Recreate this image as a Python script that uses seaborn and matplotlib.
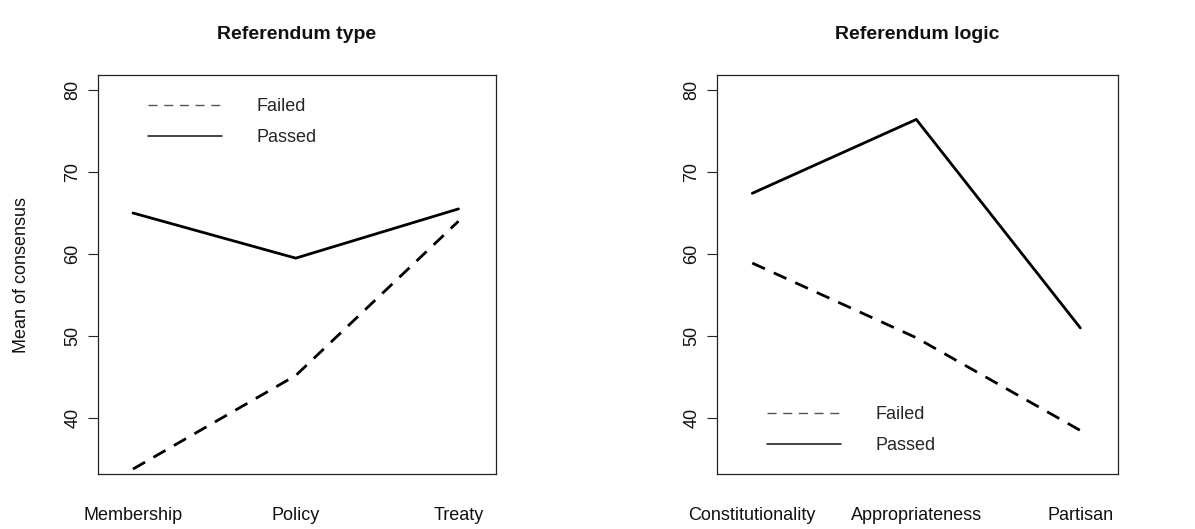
import pandas as pd
import matplotlib.pyplot as plt
import seaborn as sns
from matplotlib.lines import Line2D

# ------------------------------------------------------- #
#                          DATOS                          #
# ------------------------------------------------------- #
type_levels = ['Membership', 'Policy', 'Treaty']
type_failed = [33.8, 45.2, 64.0]
type_passed = [65.0, 59.5, 65.5]

logic_levels = ['Constitutionality', 'Appropriateness', 'Partisan']
logic_failed = [58.9, 49.8, 38.5]
logic_passed = [67.4, 76.4, 51.0]

outcomes = ['Failed', 'Passed']
y_ticks = [40, 50, 60, 70, 80]


def long_df(levels, failed, passed):
    rows = []
    for i, lev in enumerate(levels):
        rows.append({'pos': i + 1, 'level': lev, 'outcome': 'Failed', 'consensus': failed[i]})
        rows.append({'pos': i + 1, 'level': lev, 'outcome': 'Passed', 'consensus': passed[i]})
    return pd.DataFrame(rows)


df_type = long_df(type_levels, type_failed, type_passed)
df_logic = long_df(logic_levels, logic_failed, logic_passed)

# ------------------------------------------------------- #
#                      VISUALIZACIÓN                      #
# ------------------------------------------------------- #
sns.set_style('white')
plt.rcParams['font.family'] = ['Liberation Sans', 'DejaVu Sans']

fig = plt.figure(figsize=(11.95, 5.29), dpi=100)
ax1 = fig.add_axes([0.082, 0.104, 0.333, 0.754])
ax2 = fig.add_axes([0.600, 0.104, 0.3356, 0.754])

dash_map = {'Failed': (5, 3.5), 'Passed': ''}

panels = [
    (ax1, df_type, type_levels, 'Referendum type', 'upper left', (0.125, 0.942)),
    (ax2, df_logic, logic_levels, 'Referendum logic', 'lower left', (0.125, 0.05)),
]

for ax, d, levels, title, loc, anchor in panels:
    sns.lineplot(data=d, x='pos', y='consensus', style='outcome', style_order=outcomes,
                 dashes=dash_map, color='black', linewidth=2, legend=False, ax=ax)

    ax.set_xlim(0.785, 3.23)
    ax.set_ylim(33.2, 81.8)
    ax.set_xticks(range(1, len(levels) + 1))
    ax.set_xticklabels(levels)
    ax.set_yticks(y_ticks)
    ax.set_yticklabels([str(t) for t in y_ticks], rotation=90, va='center')
    ax.tick_params(axis='x', length=0, pad=24, labelsize=13, labelcolor='#111')
    ax.tick_params(axis='y', left=True, length=7, width=0.8, color='#222', pad=5,
                   labelsize=13, labelcolor='#111', direction='out')
    for sp in ax.spines.values():
        sp.set_visible(True)
        sp.set_color('#222')
        sp.set_linewidth(0.9)
    ax.set_xlabel('')
    ax.set_ylabel('')
    ax.set_title(title, fontsize=14, fontweight='bold', pad=26, color='#111')

    handles = [Line2D([], [], color='#555', lw=1, dashes=(6.5, 4.8)),
               Line2D([], [], color='#111', lw=1.1)]
    ax.legend(handles, outcomes, loc=loc, bbox_to_anchor=anchor, frameon=False,
              fontsize=13, handlelength=4.1, handletextpad=1.9, labelspacing=0.78,
              borderpad=0, borderaxespad=0)

ax1.set_ylabel('Mean of consensus', fontsize=13, labelpad=25, color='#111')

plt.savefig('out.png', dpi=100)
